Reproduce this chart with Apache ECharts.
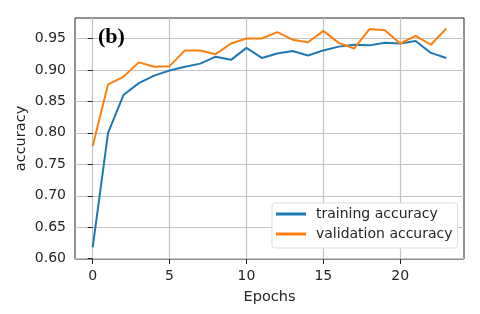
<!DOCTYPE html>
<html><head><meta charset="utf-8">
<script src="https://cdn.jsdelivr.net/npm/echarts@6/dist/echarts.min.js"></script>
<style>html,body{margin:0;padding:0;background:#fff}#c{width:480px;height:314px}</style>
</head><body><div id="c"></div>
<script>
const epochs = [0,1,2,3,4,5,6,7,8,9,10,11,12,13,14,15,16,17,18,19,20,21,22,23];
const training = [0.618,0.800,0.860,0.879,0.891,0.899,0.905,0.910,0.921,0.916,0.935,0.919,0.926,0.930,0.923,0.931,0.937,0.940,0.939,0.943,0.942,0.946,0.927,0.919];
const validation = [0.779,0.877,0.889,0.912,0.905,0.906,0.931,0.931,0.925,0.942,0.950,0.950,0.960,0.948,0.944,0.962,0.943,0.934,0.965,0.963,0.942,0.954,0.940,0.966];
const xTicks = [0,5,10,15,20];
const yTicks = [0.60,0.65,0.70,0.75,0.80,0.85,0.90,0.95];

const chart = echarts.init(document.getElementById('c'));
const font = 'DejaVu Sans';
chart.setOption({
  animation:false,
  grid:{left:75,top:18,right:16,bottom:55,show:true,borderColor:'#222',borderWidth:1,backgroundColor:'transparent'},
  title:{text:'(b)',left:98,top:26,padding:0,textStyle:{fontFamily:'Liberation Serif',fontWeight:'bold',fontSize:22,color:'#000'}},
  legend:{
    orient:'vertical',left:272,top:203,
    data:['training accuracy','validation accuracy'],
    icon:'rect',itemWidth:30,itemHeight:3,itemGap:6,
    backgroundColor:'#fff',borderColor:'#ddd',borderWidth:1,borderRadius:3,
    padding:[4,5,7,4],
    textStyle:{fontFamily:font,fontSize:14,color:'#262626',padding:[0,0,0,5]}
  },
  xAxis:{type:'value',min:-1.15,max:24.15,name:'Epochs',nameLocation:'middle',nameGap:31,nameMoveOverlap:false,
    nameTextStyle:{fontFamily:font,fontSize:14.5,color:'#262626'},
    axisLine:{show:false},
    axisTick:{show:true,inside:false,length:5,lineStyle:{color:'#222'},customValues:xTicks},
    axisLabel:{fontFamily:font,fontSize:14,color:'#262626',margin:10,customValues:xTicks},
    splitLine:{show:true,lineStyle:{color:'#c4c4c4',width:1.2}}
  },
  yAxis:{type:'value',min:0.5995,max:0.9825,name:'accuracy',nameLocation:'middle',nameGap:46,nameMoveOverlap:false,
    nameTextStyle:{fontFamily:font,fontSize:14.5,color:'#262626'},
    axisLine:{show:false},
    axisTick:{show:true,length:5,lineStyle:{color:'#222'},customValues:yTicks},
    axisLabel:{fontFamily:font,fontSize:14,color:'#262626',margin:9,customValues:yTicks,formatter:v=>v.toFixed(2)},
    splitLine:{show:true,lineStyle:{color:'#c4c4c4',width:1.2}}
  },
  series:[
    {name:'training accuracy',type:'line',data:epochs.map((e,i)=>[e,training[i]]),showSymbol:false,symbol:'none',lineStyle:{color:'#1f77b4',width:2},itemStyle:{color:'#1f77b4'}},
    {name:'validation accuracy',type:'line',data:epochs.map((e,i)=>[e,validation[i]]),showSymbol:false,symbol:'none',lineStyle:{color:'#ff7f0e',width:2},itemStyle:{color:'#ff7f0e'}}
  ]
});
</script></body></html>
